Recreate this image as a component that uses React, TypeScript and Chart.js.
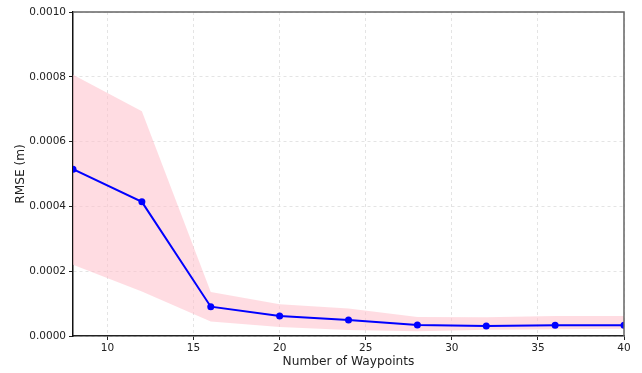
import React, { useEffect, useRef } from "react";
import { Chart, registerables } from "chart.js";

Chart.register(...registerables);

const waypoints = [8, 12, 16, 20, 24, 28, 32, 36, 40];
const rmseMean = [0.000515, 0.000414, 0.0000905, 0.0000617, 0.0000497, 0.000034, 0.000031, 0.000033, 0.000033];
const rmseUpper = [0.000806, 0.000694, 0.000136, 0.000098, 0.0000845, 0.000059, 0.000058, 0.000062, 0.000062];
const rmseLower = [0.00022, 0.000137, 0.000045, 0.000028, 0.0000185, 0.000015, 0.000019, 0.000021, 0.000022];
const xTicks = [10, 15, 20, 25, 30, 35, 40];
const yTicks = [0, 0.0002, 0.0004, 0.0006, 0.0008, 0.001];

const font = "'DejaVu Sans', sans-serif";

export default function App() {
  const ref = useRef<HTMLCanvasElement | null>(null);
  useEffect(() => {
    if (!ref.current) return;
    const toPts = (arr: number[]) => waypoints.map((x, i) => ({ x, y: arr[i] }));
    const framePlugin = {
      id: "frame",
      afterDraw(chart: any) {
        const { ctx, chartArea: a } = chart;
        ctx.save();
        ctx.strokeStyle = "#666666";
        ctx.lineWidth = 1.5;
        ctx.beginPath();
        ctx.moveTo(a.left, a.top);
        ctx.lineTo(a.right, a.top);
        ctx.lineTo(a.right, a.bottom);
        ctx.stroke();
        ctx.restore();
      },
    };
    const chart = new Chart(ref.current, {
      type: "line",
      data: {
        datasets: [
          {
            data: toPts(rmseLower),
            borderWidth: 0,
            pointRadius: 0,
            borderColor: "rgba(0,0,0,0)",
            fill: false,
            order: 3,
          },
          {
            data: toPts(rmseUpper),
            borderWidth: 0,
            pointRadius: 0,
            borderColor: "rgba(0,0,0,0)",
            backgroundColor: "rgba(255,192,203,0.55)",
            fill: "-1",
            order: 2,
          },
          {
            data: toPts(rmseMean),
            borderColor: "#0000ff",
            backgroundColor: "#0000ff",
            borderWidth: 2,
            pointRadius: 3.5,
            pointBorderWidth: 0,
            fill: false,
            order: 1,
          },
        ],
      },
      options: {
        animation: false,
        responsive: false,
        layout: { padding: { top: 12, right: 18, left: 0, bottom: 0 } },
        plugins: { legend: { display: false }, tooltip: { enabled: false } },
        scales: {
          x: {
            type: "linear",
            min: 8,
            max: 40,
            afterBuildTicks: (s: any) => {
              s.ticks = xTicks.map((v) => ({ value: v }));
            },
            afterFit: (s: any) => {
              s.height = 37;
            },
            ticks: { color: "#222", font: { family: font, size: 10.5 }, padding: 2, maxRotation: 0 },
            grid: { color: "#dddddd", lineWidth: 0.8, tickColor: "#222", tickLength: 4, tickWidth: 1 },
            border: { color: "#222", width: 1.5, dash: [3, 3] },
            title: {
              display: true,
              text: "Number of Waypoints",
              color: "#222",
              font: { family: font, size: 12.2 },
              padding: { top: 4, bottom: 4 },
            },
          },
          y: {
            min: 0,
            max: 0.001,
            afterBuildTicks: (s: any) => {
              s.ticks = yTicks.map((v) => ({ value: v }));
            },
            afterFit: (s: any) => {
              s.width = 73;
            },
            ticks: {
              color: "#222",
              font: { family: font, size: 10.5 },
              padding: 3,
              callback: (v: any) => Number(v).toFixed(4),
            },
            grid: { color: "#dddddd", lineWidth: 0.8, tickColor: "#222", tickLength: 4, tickWidth: 1 },
            border: { color: "#111", width: 1.5, dash: [3, 3] },
            title: {
              display: true,
              text: "RMSE (m)",
              color: "#222",
              font: { family: font, size: 12.2 },
              padding: { top: 14, bottom: 14 },
            },
          },
        },
      },
      plugins: [framePlugin],
    });
    return () => chart.destroy();
  }, []);
  return (
    <div style={{ position: "fixed", left: 0, top: 0, width: 642, height: 373 }}>
      <canvas ref={ref} width={642} height={373} />
    </div>
  );
}
